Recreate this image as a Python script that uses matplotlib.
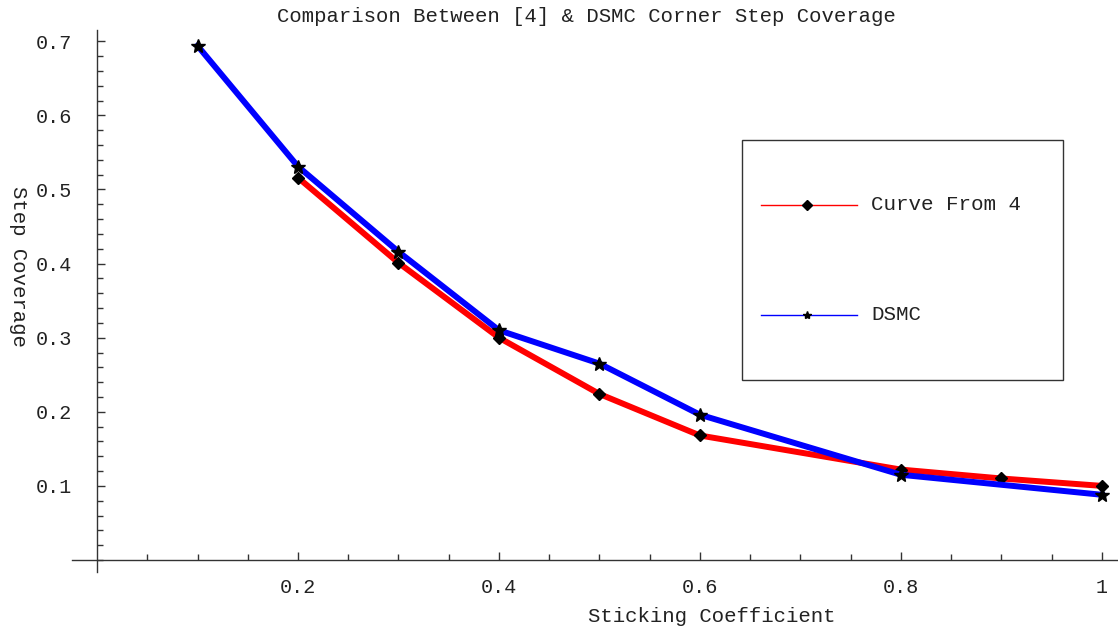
import matplotlib
matplotlib.use("Agg")
import matplotlib.pyplot as plt
from matplotlib.lines import Line2D
from matplotlib.patches import Rectangle
from matplotlib.ticker import MultipleLocator, FixedLocator

# Data
x_ref = [0.2, 0.3, 0.4, 0.5, 0.6, 0.8, 0.9, 1.0]
y_ref = [0.516, 0.401, 0.300, 0.224, 0.168, 0.122, 0.110, 0.100]
x_dsmc = [0.1, 0.2, 0.3, 0.4, 0.5, 0.6, 0.8, 1.0]
y_dsmc = [0.694, 0.531, 0.416, 0.310, 0.265, 0.196, 0.115, 0.088]
xticks = [0.2, 0.4, 0.6, 0.8, 1.0]
xticklabels = ["0.2", "0.4", "0.6", "0.8", "1"]
yticks = [0.1, 0.2, 0.3, 0.4, 0.5, 0.6, 0.7]
yticklabels = ["0.1", "0.2", "0.3", "0.4", "0.5", "0.6", "0.7"]
labels = ["Curve From 4", "DSMC"]
title = "Comparison Between [4] & DSMC Corner Step Coverage"

FONT = "Liberation Mono"
TXT = "#222222"
AX = "#333333"

W, H = 1118, 628
fig = plt.figure(figsize=(W / 100, H / 100), dpi=100)
L, R, T, B = 72, 1118, 30, 572
ax = fig.add_axes([L / W, 1 - B / H, (R - L) / W, (B - T) / H])

ax.plot(x_ref, y_ref, color="#ff0000", lw=4.3, marker="D", ms=6,
        mfc="black", mec="black", zorder=3, solid_joinstyle="miter")
ax.plot(x_dsmc, y_dsmc, color="#0000ff", lw=4.3, marker="*", ms=10,
        mfc="black", mec="black", zorder=4, solid_joinstyle="miter")

ax.set_xlim(-0.0249, 1.016)
ax.set_ylim(-0.0162, 0.7152)

for s in ["top", "right"]:
    ax.spines[s].set_visible(False)
ax.spines["left"].set_position(("data", 0))
ax.spines["bottom"].set_position(("data", 0))
for s in ["left", "bottom"]:
    ax.spines[s].set_color(AX)
    ax.spines[s].set_linewidth(1.0)

ax.xaxis.set_major_locator(FixedLocator(xticks))
ax.set_xticklabels(xticklabels)
ax.xaxis.set_minor_locator(FixedLocator([0.05, 0.1, 0.15, 0.25, 0.3, 0.35, 0.45, 0.5, 0.55,
                                          0.65, 0.7, 0.75, 0.85, 0.9, 0.95]))
ax.yaxis.set_major_locator(FixedLocator(yticks))
ax.set_yticklabels(yticklabels)
ax.yaxis.set_minor_locator(MultipleLocator(0.02))

ax.tick_params(axis="both", which="major", direction="in", length=6, width=1,
               color=AX, labelcolor=TXT, labelsize=14.5)
ax.tick_params(axis="both", which="minor", direction="in", length=4, width=1, color=AX)
ax.tick_params(axis="x", which="major", pad=13)
ax.tick_params(axis="y", which="major", pad=18)
for lbl in ax.get_xticklabels() + ax.get_yticklabels():
    lbl.set_fontfamily(FONT)

fig.text(586 / W, 1 - 16 / H, title, ha="center", va="center", fontsize=14.9,
         family=FONT, color=TXT)
fig.text(712 / W, 1 - 616 / H, "Sticking Coefficient", ha="center", va="center",
         fontsize=14.9, family=FONT, color=TXT)
fig.text(18 / W, 1 - 266 / H, "Step Coverage", ha="center", va="center",
         fontsize=14.9, family=FONT, color=TXT, rotation=-90)

# Legend box
def afx(px):
    return (px - L) / (R - L)

def afy(py):
    return 1 - (py - T) / (B - T)

ax.add_patch(Rectangle((afx(742), afy(380)), afx(1063) - afx(742), afy(140) - afy(380),
                       transform=ax.transAxes, fill=False, edgecolor=AX, lw=1.0,
                       zorder=5, clip_on=False))
entries = [(205, "#ff0000", "D", 5, labels[0]), (315, "#0000ff", "*", 6, labels[1])]
for py, col, mk, ms, lab in entries:
    ax.add_line(Line2D([afx(761), afx(857)], [afy(py), afy(py)], color=col, lw=1.0,
                       transform=ax.transAxes, zorder=6, clip_on=False))
    ax.add_line(Line2D([afx(807)], [afy(py)], marker=mk, ms=ms, color="black",
                       transform=ax.transAxes, zorder=7, clip_on=False, lw=0))
    ax.text(afx(871), afy(py), lab, transform=ax.transAxes, ha="left", va="center",
            fontsize=15, family=FONT, color=TXT, zorder=7)

fig.savefig("out.png", dpi=100)
